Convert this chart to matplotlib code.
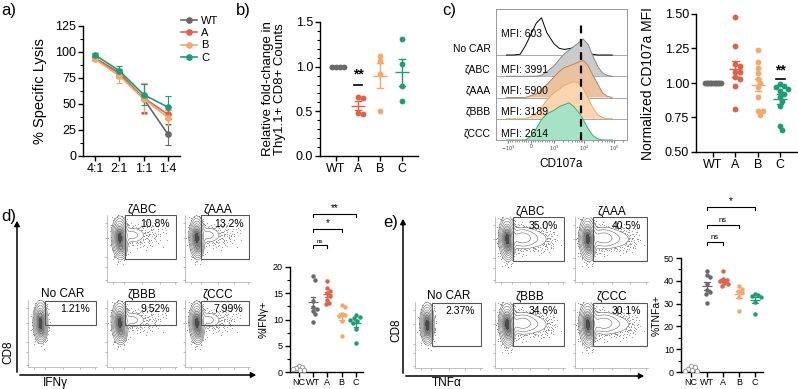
import numpy as np
import matplotlib
matplotlib.use('Agg')
import matplotlib.pyplot as plt
from matplotlib.lines import Line2D
from matplotlib.patches import Rectangle, FancyArrowPatch
from matplotlib.ticker import MultipleLocator, FixedLocator

plt.rcParams['font.family'] = ['Liberation Sans', 'DejaVu Sans']

# ------------------------------------------------------------------ data
ratios = ['4:1', '2:1', '1:1', '1:4']
lysis_WT = [94, 80, 55, 21]
lysis_A = [94, 79, 56, 40]
lysis_B = [93, 77, 55, 37]
lysis_C = [97, 82, 59, 47]
lysis_WT_err = [2, 4, 14, 10]
lysis_A_err = [2, 4, 14, 4]
lysis_B_err = [2, 7, 15, 7]
lysis_C_err = [2, 5, 10, 11]

groups = ['WT', 'A', 'B', 'C']
fold_WT = [1.0, 1.0, 1.0, 1.0]
fold_A = [0.66, 0.65, 0.48, 0.47]
fold_B = [1.12, 1.06, 0.92, 0.50]
fold_C = [1.31, 1.03, 0.78, 0.62]

hist_labels = ['No CAR', 'ζABC', 'ζAAA', 'ζBBB', 'ζCCC']
hist_mfi = [603, 3991, 5900, 3189, 2614]
hist_grid = [-1100, -740, -460, -230, 0, 230, 460, 690, 1000, 1500, 2200,
             3200, 4600, 6600, 9600, 14000, 20000, 30000, 43000, 62000, 90000]
hist_nocar = [0, 0, 0.02, 0.25, 0.55, 0.85, 1.0, 0.6, 0.3, 0.18, 0.15, 0.17, 0.2, 0.15, 0.1, 0.05, 0.02, 0, 0, 0, 0]
hist_abc = [0, 0, 0, 0, 0, 0, 0.03, 0.12, 0.28, 0.45, 0.6, 0.7, 0.8, 0.9, 1.0, 0.85, 0.55, 0.25, 0.08, 0.02, 0]
hist_aaa = [0, 0, 0, 0, 0.05, 0.1, 0.2, 0.35, 0.55, 0.7, 0.8, 0.85, 0.9, 0.95, 1.0, 0.85, 0.6, 0.35, 0.12, 0.03, 0]
hist_bbb = [0, 0, 0, 0, 0.05, 0.15, 0.3, 0.5, 0.7, 0.8, 0.9, 0.95, 1.0, 0.95, 0.8, 0.55, 0.3, 0.1, 0.03, 0, 0]
hist_ccc = [0, 0, 0, 0, 0.1, 0.3, 0.55, 0.7, 0.8, 0.9, 0.95, 1.0, 0.9, 0.75, 0.55, 0.3, 0.12, 0.03, 0, 0, 0]
mfi_cutoff = 8000

mfi_WT = [1.0] * 11
mfi_A = [1.48, 1.27, 1.14, 1.12, 1.08, 1.08, 1.04, 1.03, 0.98, 0.81]
mfi_B = [1.24, 1.15, 1.11, 1.07, 1.03, 1.00, 0.97, 0.90, 0.80, 0.80, 0.77]
mfi_C = [0.99, 0.98, 0.97, 0.96, 0.94, 0.92, 0.90, 0.87, 0.83, 0.69, 0.66]

flow_titles = ['No CAR', 'ζABC', 'ζAAA', 'ζBBB', 'ζCCC']
ifng_pct = ['1.21%', '10.8%', '13.2%', '9.52%', '7.99%']
tnfa_pct = ['2.37%', '35.0%', '40.5%', '34.6%', '30.1%']

groups5 = ['NC', 'WT', 'A', 'B', 'C']
ifng_NC = [1.2, 0.9, 0.7, 0.5, 0.4, 0.3]
ifng_WT = [18.2, 17.6, 13.5, 12.4, 12.0, 11.7, 11.1, 9.5]
ifng_A = [17.4, 16.0, 15.5, 15.0, 14.5, 13.8, 13.2, 12.9]
ifng_B = [12.7, 12.4, 11.1, 10.8, 10.6, 9.7, 6.8]
ifng_C = [10.8, 10.5, 10.2, 10.0, 9.7, 9.3, 8.1, 5.5]

tnfa_NC = [2.6, 2.0, 1.5, 1.0, 0.6, 0.4]
tnfa_WT = [44.4, 42.5, 41.5, 38.4, 35.9, 34.9, 34.1, 30.3]
tnfa_A = [44.2, 41.0, 40.3, 39.8, 39.1, 38.4, 37.7]
tnfa_B = [37.8, 36.5, 35.6, 34.9, 33.0, 26.7]
tnfa_C = [34.1, 33.7, 33.3, 32.7, 30.5, 25.6]

# ------------------------------------------------------------------ style
C_WT, C_A, C_B, C_C = '#696969', '#e0604a', '#f4a86c', '#1f9c75'
COLS = [C_WT, C_A, C_B, C_C]

W, H = 798, 389
fig = plt.figure(figsize=(W / 100, H / 100), dpi=100)


def add_ax(x0, y0, x1, y1):
    return fig.add_axes([x0 / W, 1 - y1 / H, (x1 - x0) / W, (y1 - y0) / H])


def prism(ax, fs=9):
    for s in ['top', 'right']:
        ax.spines[s].set_visible(False)
    for s in ['left', 'bottom']:
        ax.spines[s].set_linewidth(1.0)
    ax.tick_params(which='major', length=3.5, width=1.0, labelsize=fs, pad=1.5)
    ax.tick_params(which='minor', length=2, width=0.8)
    ax.tick_params(axis='x', which='minor', bottom=False)


def swarm_x(vals, pxx, pxy, d, max_half):
    vals = np.asarray(vals, float)
    ypx = vals * pxy
    order = np.argsort(-vals, kind='stable')
    placed = []
    out = np.zeros(len(vals))
    step = d * 0.25
    cands = [0.0]
    for k in range(1, 200):
        cands += [k * step, -k * step]
    for i in order:
        for c in cands:
            if all((c - px) ** 2 + (ypx[i] - py) ** 2 >= (d * 0.95) ** 2 for px, py in placed):
                break
        placed.append((c, ypx[i]))
        out[i] = c
    mx = np.max(np.abs(out))
    if mx > max_half:
        out *= max_half / mx
    return out / pxx


def mean_sem(ax, x, vals, color, hw=0.27, cw=0.13, lw=1.0):
    m = np.mean(vals)
    s = np.std(vals, ddof=1) / np.sqrt(len(vals))
    ax.plot([x - hw, x + hw], [m, m], color=color, lw=lw, zorder=4, solid_capstyle='butt')
    if s > 0:
        ax.plot([x, x], [m - s, m + s], color=color, lw=lw, zorder=4)
        ax.plot([x - cw, x + cw], [m + s] * 2, color=color, lw=lw, zorder=4)
        ax.plot([x - cw, x + cw], [m - s] * 2, color=color, lw=lw, zorder=4)


def dot_column(ax, x, vals, color, pxx, pxy, d, max_half, ms, hollow=False):
    off = swarm_x(vals, pxx, pxy, d, max_half)
    if hollow:
        ax.plot(x + off, vals, 'o', ms=ms, mfc='white', mec=color, mew=0.7, ls='none', zorder=3)
    else:
        ax.plot(x + off, vals, 'o', ms=ms, color=color, mec='none', ls='none', zorder=3)


# ------------------------------------------------------------------ panel a
axa = add_ax(83, 26, 180, 156)
xa = np.arange(len(ratios))
for vals, errs, col, lab in [(lysis_WT, lysis_WT_err, C_WT, 'WT'), (lysis_A, lysis_A_err, C_A, 'A'),
                             (lysis_B, lysis_B_err, C_B, 'B'), (lysis_C, lysis_C_err, C_C, 'C')]:
    axa.errorbar(xa, vals, yerr=errs, color=col, marker='o', ms=3.8, lw=1.2,
                 elinewidth=0.8, capsize=2, capthick=0.8, label=lab)
axa.set_xlim(-0.5, 3.5)
axa.set_ylim(0, 125)
axa.set_xticks(xa)
axa.set_xticklabels(ratios)
axa.yaxis.set_major_locator(MultipleLocator(25))
axa.yaxis.set_minor_locator(MultipleLocator(12.5))
prism(axa, 9)
axa.set_ylabel('% Specific Lysis', fontsize=10.5, labelpad=6)
handles = [Line2D([], [], color=c, marker='o', ms=3.8, lw=1.2) for c in COLS]
fig.legend(handles, groups, loc='upper left', bbox_to_anchor=(181 / W, 1 - 16 / H),
           frameon=False, fontsize=8, handlelength=1.4, handletextpad=0.4,
           labelspacing=0.2, borderpad=0, borderaxespad=0)
fig.text(1 / W, 1 - 11 / H, 'a)', fontsize=12, va='center', ha='left')

# ------------------------------------------------------------------ panel b
axb = add_ax(320, 22, 418, 156)
axb.set_xlim(-0.73, 3.73)
axb.set_ylim(0, 1.5)
pxx_b, pxy_b = 98 / 4.46, 134 / 1.5
for i, (vals, col) in enumerate(zip([fold_WT, fold_A, fold_B, fold_C], COLS)):
    dot_column(axb, i, vals, col, pxx_b, pxy_b, 5.0, 7.5, 4.2)
    mean_sem(axb, i, vals, col, hw=0.3, cw=0.14)
axb.plot([0.8, 1.2], [0.80, 0.80], color='black', lw=1.2)
axb.text(1, 0.83, '**', ha='center', va='bottom', fontsize=10, fontweight='bold')
axb.set_xticks(range(4))
axb.set_xticklabels(groups)
axb.yaxis.set_major_locator(MultipleLocator(0.5))
axb.yaxis.set_minor_locator(MultipleLocator(0.1))
axb.yaxis.set_major_formatter(plt.FuncFormatter(lambda v, p: f'{v:.1f}'))
prism(axb, 9)
axb.set_ylabel('Relative fold-change in\nThy1.1+ CD8+ Counts', fontsize=9.5, labelpad=7, linespacing=1.0)
fig.text(236 / W, 1 - 11 / H, 'b)', fontsize=12, va='center', ha='left')

# ------------------------------------------------------------------ panel c histograms
axh = add_ax(496, 9, 627, 140)
axh.set_xscale('symlog', linthresh=1000, linscale=0.7)
axh.set_xlim(-2450, 280000)
row_h = 131 / 21.25
axh.set_ylim(0, row_h)
styles = [('white', 'black'), ('#cbcbcb', '#8a8a8a'), ('#ebc2a0', '#b8865e'),
          ('#fcd6b0', '#f0a868'), ('#a6e2c6', '#3fae6a')]
hists = [hist_nocar, hist_abc, hist_aaa, hist_bbb, hist_ccc]
for k, (hv, (fc, ec)) in enumerate(zip(hists, styles)):
    base = 4 - k
    top = base + np.asarray(hv) * 1.75
    if k > 0:
        axh.axhline(base, color='#9a9a9a', lw=0.6, zorder=0.5)
    axh.fill_between(hist_grid, base, top, facecolor=fc, edgecolor='none', zorder=1 + k)
    axh.plot(hist_grid, top, color=ec, lw=0.7, zorder=1 + k)
axh.axhline(4, color='#9a9a9a', lw=0.6, zorder=0.5)
axh.plot([mfi_cutoff, mfi_cutoff], [0, 5.65], color='black', lw=1.6, dashes=(3.5, 2.5), zorder=10)
for k, (lab, mfi) in enumerate(zip(hist_labels, hist_mfi)):
    base = 4 - k
    ty = base + 0.3 if k > 0 else 5.0
    axh.text(0.04, ty, f'MFI: {mfi}', transform=axh.get_yaxis_transform(), fontsize=7.5,
             va='center', ha='left', zorder=12)
    axh.text(-0.04, base + 0.3, lab, transform=axh.get_yaxis_transform(), fontsize=7.5,
             va='center', ha='right')
axh.set_yticks([])
axh.xaxis.set_major_locator(FixedLocator([-1000, 0, 1000, 10000, 100000]))
axh.set_xticklabels(['$-10^3$', '0', '$10^3$', '$10^4$', '$10^5$'], fontsize=3.5)
minors = [-900, -800, -700, -600, -500, -400, -300, -200, -100, 100, 200, 300, 400, 500, 600, 700, 800, 900] + \
         [m * 10 ** e for e in (3, 4) for m in range(2, 10)] + [200000]
axh.xaxis.set_minor_locator(FixedLocator(minors))
axh.tick_params(axis='x', which='major', length=2, width=0.5, pad=1, colors='#444444')
axh.tick_params(axis='x', which='minor', length=1.2, width=0.4, colors='#444444')
for s in axh.spines.values():
    s.set_color('#999999')
    s.set_linewidth(0.7)
axh.set_xlabel('CD107a', fontsize=8.5, labelpad=3)
fig.text(442 / W, 1 - 11 / H, 'c)', fontsize=12, va='center', ha='left')

# ------------------------------------------------------------------ panel c right
axc = add_ax(696, 14, 797, 152)
axc.set_xlim(-0.76, 3.75)
axc.set_ylim(0.5, 1.5)
pxx_c, pxy_c = 101 / 4.51, 138 / 1.0
for i, (vals, col) in enumerate(zip([mfi_WT, mfi_A, mfi_B, mfi_C], COLS)):
    dot_column(axc, i, vals, col, pxx_c, pxy_c, 5.0, 8.0, 4.2)
    mean_sem(axc, i, vals, col, hw=0.3, cw=0.14)
axc.plot([2.8, 3.2], [1.03, 1.03], color='black', lw=1.2)
axc.text(3, 1.04, '**', ha='center', va='bottom', fontsize=10, fontweight='bold')
axc.set_xticks(range(4))
axc.set_xticklabels(groups)
axc.yaxis.set_major_locator(MultipleLocator(0.25))
axc.yaxis.set_major_formatter(plt.FuncFormatter(lambda v, p: f'{v:.2f}'))
prism(axc, 9)
axc.set_ylabel('Normalized CD107a MFI', fontsize=10, labelpad=7)

# ------------------------------------------------------------------ flow plots
blob_pos = {'neg': [(0.18, 0.68, 0.045, 0.13, 1.0), (0.2, 0.52, 0.035, 0.07, 0.35)],
            'ifn': [(0.18, 0.67, 0.05, 0.13, 1.0), (0.21, 0.5, 0.035, 0.07, 0.35),
                    (0.36, 0.7, 0.09, 0.07, 0.12), (0.58, 0.7, 0.15, 0.1, 0.03)],
            'tnf': [(0.17, 0.68, 0.05, 0.14, 1.0), (0.2, 0.5, 0.035, 0.08, 0.35),
                    (0.38, 0.68, 0.11, 0.09, 0.25), (0.6, 0.66, 0.14, 0.1, 0.08)]}
gx, gy = np.meshgrid(np.linspace(0, 1, 140), np.linspace(0, 1, 140))


def halton(n, base):
    out = np.zeros(n)
    for i in range(n):
        f, r, k = 1.0, 0.0, i + 1
        while k > 0:
            f /= base
            r += f * (k % base)
            k //= base
        out[i] = r
    return out


HX, HY, HT = halton(1500, 2), halton(1500, 3), halton(1500, 5)


def density(blobs, x, y):
    z = np.zeros_like(x)
    for (cx, cy, sx, sy, w) in blobs:
        z += w * np.exp(-0.5 * (((x - cx) / sx) ** 2 + ((y - cy) / sy) ** 2))
    return z


def flow_plot(box, title, pct, gate, blobs):
    ax = add_ax(*box)
    ax.set_xlim(0, 1)
    ax.set_ylim(0, 1)
    z = density(blobs, gx, gy)
    zmax = z.max()
    z /= zmax
    ax.contourf(gx, gy, z, levels=[0.4, 0.6, 0.8, 0.92, 2],
                colors=['#d4d4d4', '#a8a8a8', '#7a7a7a', '#4a4a4a'])
    ax.contour(gx, gy, z, levels=[0.05, 0.1, 0.18, 0.3, 0.45, 0.65],
               colors='#555555', linewidths=0.35)
    zd = density(blobs, HX, HY) / zmax
    keep = (zd < 0.05) & (zd > 0.002) & (HT < zd * 25)
    ax.plot(HX[keep], HY[keep], 'o', ms=0.7, color='#777777', mec='none', ls='none')
    ax.add_patch(Rectangle((gate[0], gate[1]), gate[2] - gate[0], gate[3] - gate[1],
                           fill=False, ec='#555555', lw=0.8))
    ax.set_title(title, fontsize=8.5, pad=1.5)
    ax.text(0.9, 0.86, pct, ha='right', va='center', fontsize=7.5)
    for s in ['top', 'right']:
        ax.spines[s].set_visible(False)
    for s in ['left', 'bottom']:
        ax.spines[s].set_color('#aaaaaa')
        ax.spines[s].set_linewidth(0.5)
    ax.set_xticks([0.09, 0.24, 0.5, 0.75, 0.97])
    ax.set_yticks([0.03, 0.22, 0.37, 0.66, 0.88])
    ax.tick_params(length=1.5, width=0.4, colors='#777777', labelleft=False, labelbottom=False)
    return ax


def flow_panel(boxes, pcts, kind, gates):
    for i in range(5):
        flow_plot(boxes[i], flow_titles[i], pcts[i], gates[i], blob_pos['neg' if i == 0 else kind])


d_boxes = [(28, 300, 97, 367), (107, 215, 177, 282), (185, 215, 250, 282),
           (107, 300, 177, 367), (185, 300, 250, 367)]
d_gates = [(0.245, 0.62, 0.98, 0.98), (0.25, 0.35, 0.985, 0.995), (0.25, 0.35, 0.985, 0.995),
           (0.25, 0.62, 0.985, 0.98), (0.25, 0.62, 0.985, 0.98)]
flow_panel(d_boxes, ifng_pct, 'ifn', d_gates)
e_boxes = [(415, 302, 482, 368), (495, 217, 565, 282), (575, 217, 648, 282),
           (495, 302, 565, 368), (575, 302, 648, 368)]
e_gates = [(0.26, 0.33, 0.985, 0.98), (0.25, 0.32, 0.985, 0.995), (0.25, 0.32, 0.985, 0.995),
           (0.25, 0.33, 0.985, 0.98), (0.25, 0.33, 0.985, 0.98)]
flow_panel(e_boxes, tnfa_pct, 'tnf', e_gates)

for (x0, y0, x1, y1) in [(17, 375, 17, 218), (17, 375, 259, 375), (403, 376, 403, 216), (403, 376, 647, 376)]:
    fig.add_artist(FancyArrowPatch(
        (x0 / W, 1 - y0 / H), (x1 / W, 1 - y1 / H), transform=fig.transFigure,
        arrowstyle='-|>,head_length=3,head_width=1.6', color='black', lw=1.1))
fig.text(8 / W, 1 - 352 / H, 'CD8', rotation=90, fontsize=8.5, ha='center', va='center')
fig.text(43 / W, 1 - 383 / H, 'IFNγ', fontsize=8.5, ha='left', va='center')
fig.text(396 / W, 1 - 330 / H, 'CD8', rotation=90, fontsize=8.5, ha='center', va='center')
fig.text(432 / W, 1 - 383 / H, 'TNFα', fontsize=8.5, ha='left', va='center')
fig.text(1 / W, 1 - 217 / H, 'd)', fontsize=12, va='center', ha='left')
fig.text(383 / W, 1 - 222 / H, 'e)', fontsize=12, va='center', ha='left')


# ------------------------------------------------------------------ scatter d / e
def bracket(ax, x0, x1, y, drop, text, fs):
    ax.plot([x0, x0, x1, x1], [y - drop, y, y, y - drop], color='black', lw=0.8, clip_on=False)
    ax.text((x0 + x1) / 2, y + drop * 0.3, text, ha='center', va='bottom', fontsize=fs)


def scatter5(box, ylim, series, major, minor, ylabel, pxx, pxy, brackets, drop, lpad):
    ax = add_ax(*box)
    ax.set_xlim(-0.63, 4.5)
    ax.set_ylim(*ylim)
    cols = ['#9a9a9a'] + COLS
    for i, (vals, col) in enumerate(zip(series, cols)):
        dot_column(ax, i, vals, col, pxx, pxy, 3.8, 6.0, 3.2, hollow=(i == 0))
        if i > 0:
            mean_sem(ax, i, vals, col, hw=0.33, cw=0.16, lw=0.9)
    ax.set_xticks(range(5))
    ax.set_xticklabels(groups5)
    ax.yaxis.set_major_locator(MultipleLocator(major))
    ax.yaxis.set_minor_locator(MultipleLocator(minor))
    prism(ax, 6.5)
    ax.tick_params(axis='x', pad=1)
    ax.set_ylabel(ylabel, fontsize=7.5, labelpad=lpad)
    for (a, b, y, t, fs) in brackets:
        bracket(ax, a, b, y, drop, t, fs)
    return ax


scatter5((290, 267, 363, 372), (0, 20), [ifng_NC, ifng_WT, ifng_A, ifng_B, ifng_C], 5, 2.5,
         '%IFNγ+', 73 / 5.13, 105 / 20,
         [(1, 2, 24.2, 'ns', 4.5), (1, 3, 27.2, '*', 7), (1, 4, 30.1, '**', 7)], 0.6, 3)
scatter5((681, 258, 763, 372), (0, 50), [tnfa_NC, tnfa_WT, tnfa_A, tnfa_B, tnfa_C], 10, 5,
         '%TNFa+', 82 / 5.13, 114 / 50,
         [(1, 2, 57.0, 'ns', 5.5), (1, 3, 64.5, 'ns', 5.5), (1, 4, 72.4, '*', 7)], 1.3, 2)

fig.savefig('out.png', dpi=100)
